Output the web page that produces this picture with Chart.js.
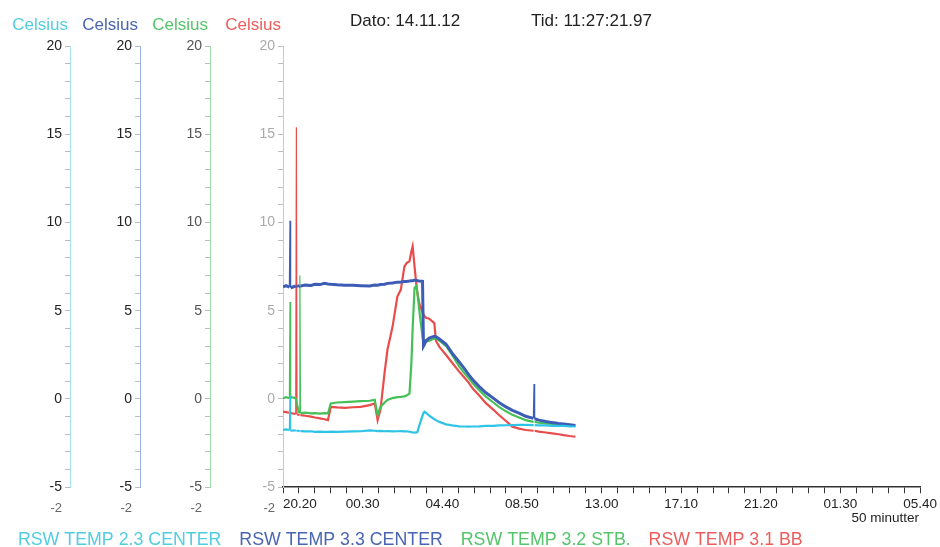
<!DOCTYPE html>
<html>
<head>
<meta charset="utf-8">
<script src="https://cdn.jsdelivr.net/npm/chart.js@4.4.1/dist/chart.umd.min.js"></script>
<style>
  html, body { margin: 0; padding: 0; background: #fff; }
  #wrap { width: 940px; height: 547px; }
</style>
</head>
<body>
<div id="wrap"><canvas id="chart"></canvas></div>
<script>
// minutes after 20.20 (first tick)
const minutes = [
    0, 10, 20, 22, 24, 40, 42, 44, 51, 53,
    55, 70, 88, 100, 116, 130, 141, 150, 170, 194,
    220, 244, 272, 288, 297, 306, 319, 328, 344, 359,
    370, 381, 388, 397, 403, 407, 413, 419, 422, 428,
    438, 441, 444, 449, 459, 475, 480, 491, 512, 531,
    553, 570, 584, 595, 616, 637, 660, 678, 700, 720,
    741, 762, 786, 788, 790, 803, 825, 845, 865, 881,
    900, 918
];

const temp23Center = [
    -1.75, -1.72, -1.76, 0.2, -1.8, -1.78, -1.8, -1.79, -1.82, -1.8,
    -1.82, -1.84, -1.83, -1.86, -1.85, -1.87, -1.86, -1.85, -1.87, -1.85,
    -1.84, -1.83, -1.78, -1.8, -1.82, -1.81, -1.83, -1.82, -1.84, -1.83,
    -1.82, -1.84, -1.83, -1.86, -1.88, -1.9, -1.91, -1.89, -1.88, -1.5,
    -0.95, -0.8, -0.72, -0.78, -0.95, -1.15, -1.2, -1.3, -1.44, -1.5,
    -1.55, -1.56, -1.57, -1.56, -1.55, -1.53, -1.52, -1.5, -1.49, -1.48,
    -1.47, -1.47, -1.48, -1.48, -1.48, -1.5, -1.5, -1.52, -1.52, -1.53,
    -1.55, -1.56
];

const temp33Center = [
    6.35, 6.42, 6.33, 10.1, 6.3, 6.4, 6.36, 6.38, 6.42, 6.37,
    6.4, 6.45, 6.43, 6.5, 6.48, 6.55, 6.52, 6.5, 6.47, 6.45,
    6.44, 6.42, 6.4, 6.45, 6.44, 6.48, 6.5, 6.55, 6.57, 6.62,
    6.63, 6.65, 6.66, 6.68, 6.7, 6.7, 6.72, 6.72, 6.7, 6.68,
    6.66, 3.0, 3.1, 3.3, 3.45, 3.55, 3.53, 3.4, 3.1, 2.6,
    2.1, 1.7, 1.35, 1.1, 0.7, 0.35, 0.05, -0.2, -0.45, -0.65,
    -0.8, -0.98, -1.1, 0.85, -1.12, -1.2, -1.28, -1.34, -1.39, -1.42,
    -1.46, -1.5
];

const temp32Stb = [
    0.05, 0.1, 0.04, 5.5, 0.1, 0.05, 0.0, -0.3, -0.8, 7.0,
    -0.8, -0.78, -0.82, -0.8, -0.83, -0.8, -0.82, -0.25, -0.2, -0.18,
    -0.15, -0.12, -0.1, -0.05, -0.9, -0.45, -0.2, -0.05, 0.05, 0.1,
    0.12, 0.15, 0.2, 0.3, 2.0, 4.0, 6.3, 6.4, 6.0, 5.0,
    3.5, 3.2, 3.15, 3.25, 3.3, 3.42, 3.44, 3.3, 3.0, 2.5,
    1.85, 1.45, 1.15, 0.9, 0.5, 0.13, -0.2, -0.45, -0.7, -0.9,
    -1.05, -1.2, -1.3, -1.3, -1.3, -1.35, -1.39, -1.42, -1.46, -1.48,
    -1.51, -1.53
];

const temp31Bb = [
    -0.72, -0.75, -0.78, -0.8, -0.8, -0.85, 15.4, -0.88, -0.9, -0.9,
    -0.92, -0.95, -1.0, -1.05, -1.1, -1.15, -1.2, -0.45, -0.48, -0.5,
    -0.47, -0.45, -0.35, -0.25, -1.2, -0.6, 1.5, 2.8, 4.1, 5.8,
    6.2, 7.5, 7.7, 7.8, 8.35, 8.65, 7.5, 6.4, 6.0, 5.4,
    4.9, 4.8, 4.7, 4.6, 4.55, 4.3, 3.3, 2.95, 2.49, 2.05,
    1.55, 1.2, 0.9, 0.6, 0.2, -0.24, -0.6, -0.91, -1.25, -1.57,
    -1.68, -1.76, -1.8, -1.8, -1.8, -1.85, -1.9, -1.95, -2.0, -2.05,
    -2.1, -2.14
];

const timeLabels = ['20.20', '00.30', '04.40', '08.50', '13.00', '17.10', '21.20', '01.30', '05.40'];
const seriesNames = ['RSW TEMP 2.3 CENTER', 'RSW TEMP 3.3 CENTER', 'RSW TEMP 3.2 STB.', 'RSW TEMP 3.1 BB'];
const lineColors = ['#2fc3e6', '#3c5cb6', '#45c057', '#ea4c4c'];
const textColors = ['#52cde0', '#4a66b2', '#55c46a', '#ec5e5e'];
const axisColors = ['#a6e3ef', '#98b3e2', '#9fe1a8', '#f3b7b7'];
const tickTextColors = ['#222', '#222', '#555', '#aaa'];
const axisIds = ['yCyan', 'yBlue', 'yGreen', 'yRed'];
const headerTexts = ['Dato: 14.11.12', 'Tid: 11:27:21.97'];

Chart.defaults.font.family = '"Liberation Sans", Arial, sans-serif';

const pts = vals => minutes.map((m, i) => ({ x: m, y: vals[i] }));

// spikes are drawn thin, like the recorder pen
const thinSpike = ctx => (ctx.p1.parsed.x - ctx.p0.parsed.x <= 2 ? 1.2 : undefined);

const yAxis = (i, weight, width) => ({
    type: 'linear',
    position: 'left',
    weight: weight,
    min: -5,
    max: 20,
    grid: { drawOnChartArea: false, tickLength: 5, tickColor: '#bdbdbd' },
    border: { color: axisColors[i], width: 1 },
    ticks: {
        stepSize: 1,
        autoSkip: false,
        padding: 3,
        color: tickTextColors[i],
        font: { size: 14 },
        callback: v => (v % 5 === 0 ? v : '')
    },
    afterFit: scale => { scale.width = width; }
});

const paperText = {
    id: 'paperText',
    afterDraw(chart) {
        const ctx = chart.ctx;
        ctx.save();
        ctx.textBaseline = 'middle';
        ctx.textAlign = 'right';
        axisIds.forEach((id, i) => {
            const s = chart.scales[id];
            ctx.font = '17px "Liberation Sans"';
            ctx.fillStyle = textColors[i];
            ctx.fillText('Celsius', s.right - 2, 25);
            ctx.font = '13px "Liberation Sans"';
            ctx.fillStyle = '#666';
            ctx.fillText('-2', s.right - 8, 508);
        });
        const x = chart.scales.x;
        ctx.font = '13.5px "Liberation Sans"';
        ctx.fillStyle = '#222';
        ctx.fillText('50 minutter', x.right - 1, 518);
        ctx.textAlign = 'left';
        ctx.font = '17px "Liberation Sans"';
        ctx.fillText(headerTexts[0], 350, 21);
        ctx.fillText(headerTexts[1], 531, 21);
        ctx.restore();
    }
};

const series = [temp23Center, temp33Center, temp32Stb, temp31Bb];

new Chart(document.getElementById('chart'), {
    type: 'line',
    data: {
        datasets: series.map((vals, i) => ({
            label: seriesNames[i],
            data: pts(vals),
            yAxisID: axisIds[i],
            borderColor: lineColors[i],
            borderWidth: i === 1 ? 3 : 2.2,
            pointRadius: 0,
            tension: 0,
            segment: { borderWidth: thinSpike }
        }))
    },
    options: {
        responsive: true,
        maintainAspectRatio: false,
        animation: false,
        layout: { padding: { top: 46, right: 17, bottom: -12, left: 0 } },
        scales: {
            x: {
                type: 'linear',
                min: 0,
                max: 2000,
                grid: { drawOnChartArea: false, tickLength: 6, tickColor: '#333' },
                border: { color: '#333', width: 1.5 },
                ticks: {
                    stepSize: 50,
                    autoSkip: false,
                    maxRotation: 0,
                    padding: 3,
                    color: '#222',
                    font: { size: 13.5 },
                    callback: v => {
                        if (Math.round(v) % 250 !== 0) return '';
                        const lbl = timeLabels[Math.round(v) / 250];
                        return v === 0 ? ' '.repeat(9) + lbl : lbl;
                    }
                },
                afterFit: scale => { scale.height = 35; }
            },
            yCyan: yAxis(0, 4, 70),
            yBlue: yAxis(1, 3, 70),
            yGreen: yAxis(2, 2, 70),
            yRed: yAxis(3, 1, 73)
        },
        plugins: {
            tooltip: false,
            legend: {
                position: 'bottom',
                align: 'start',
                labels: {
                    boxWidth: 0,
                    boxHeight: 0,
                    padding: 9,
                    font: { size: 17.8 },
                    generateLabels: chart => chart.data.datasets.map((ds, i) => ({
                        text: ds.label,
                        fontColor: textColors[i],
                        fillStyle: 'rgba(0,0,0,0)',
                        strokeStyle: 'rgba(0,0,0,0)',
                        lineWidth: 0,
                        hidden: false,
                        datasetIndex: i
                    }))
                }
            }
        }
    },
    plugins: [paperText]
});
</script>
</body>
</html>
